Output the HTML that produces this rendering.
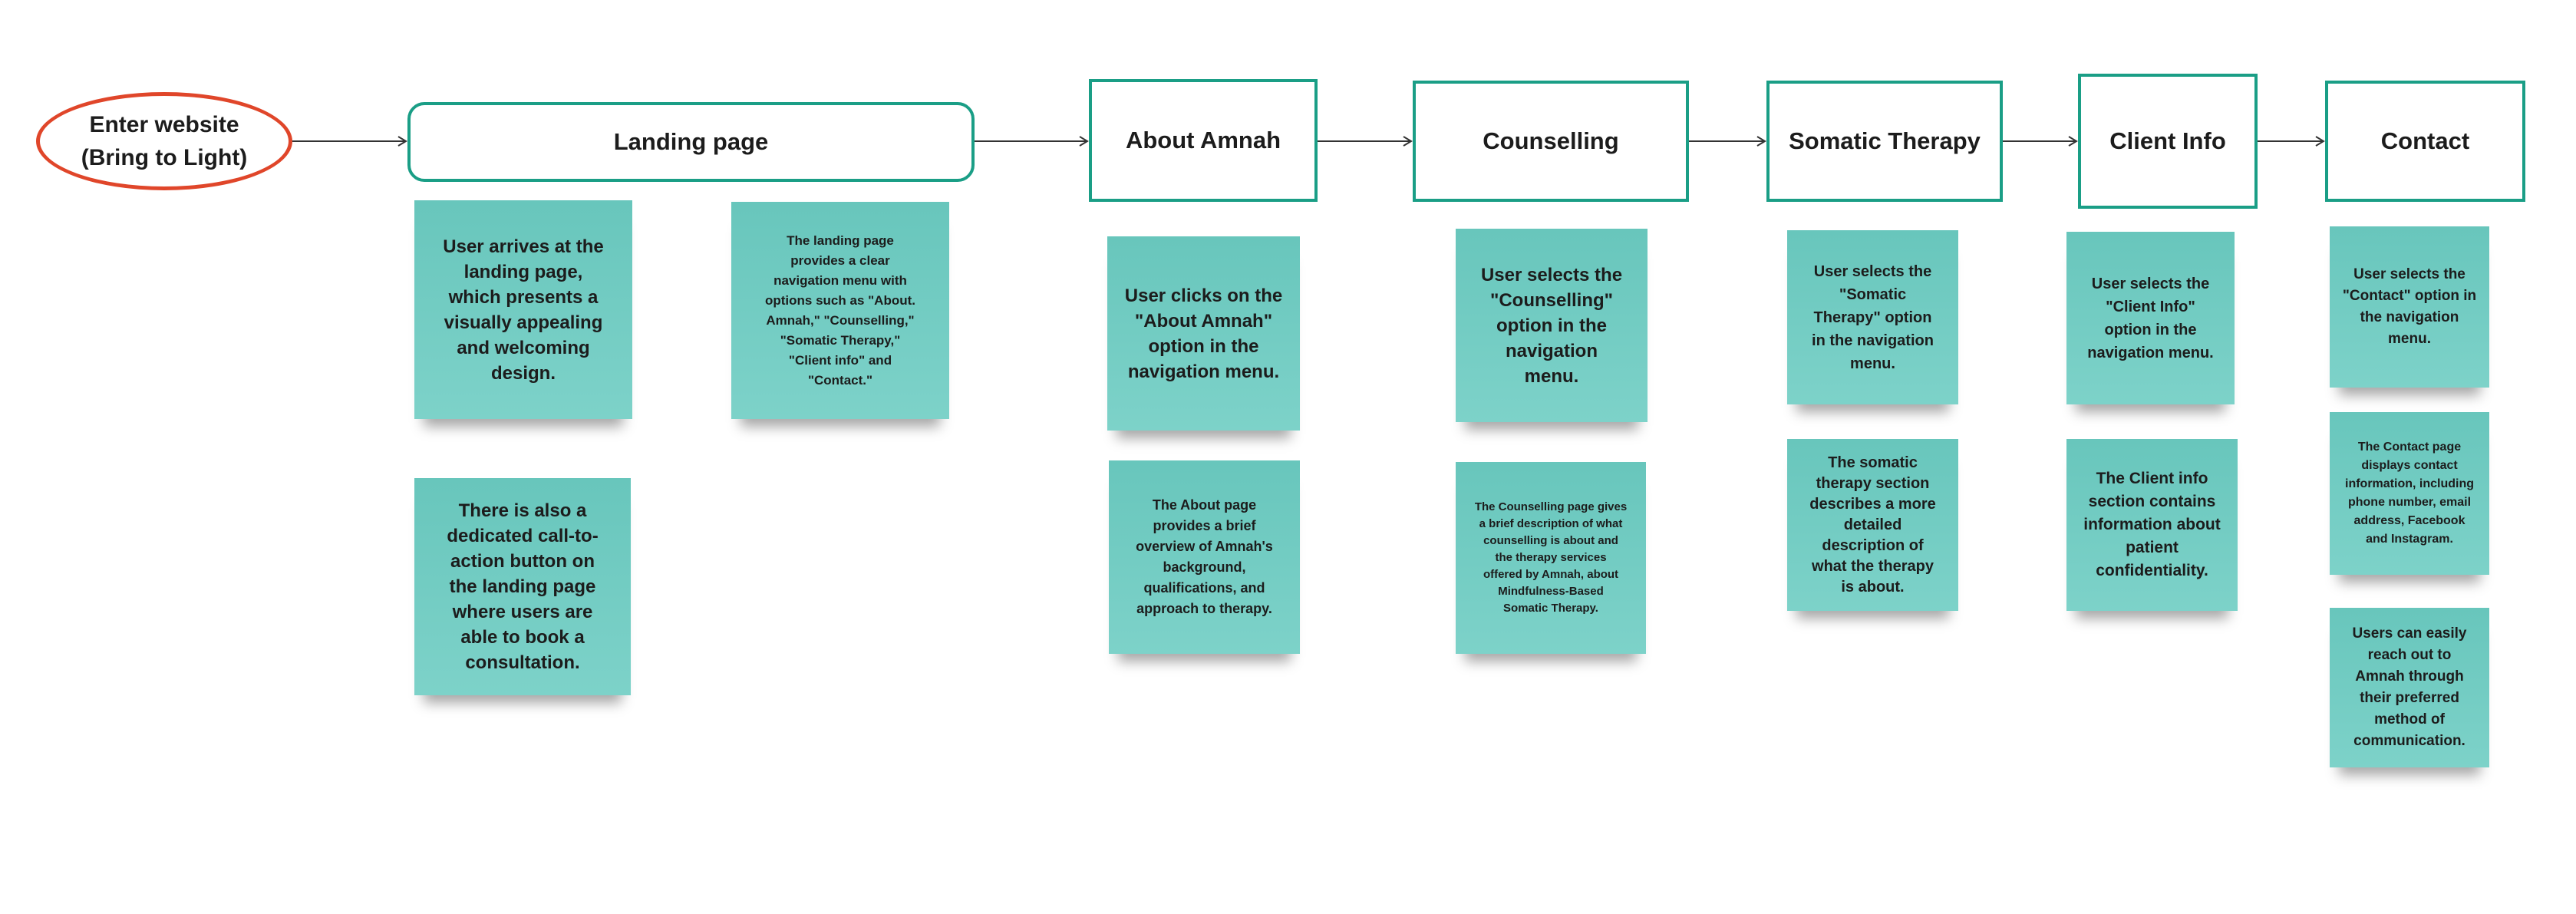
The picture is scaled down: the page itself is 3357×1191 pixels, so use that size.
<!DOCTYPE html>
<html><head><meta charset="utf-8"><style>
body{margin:0;width:3357px;height:1191px;background:#fff;position:relative;overflow:hidden;font-family:"Liberation Sans",sans-serif;font-weight:bold;color:#1c1c1c}
.b{position:absolute;box-sizing:border-box;border:4px solid #1a9e86;background:#fff;display:flex;align-items:center;justify-content:center;text-align:center;font-size:31px}
.n{position:absolute;box-sizing:border-box;background:linear-gradient(180deg,#68c6bc,#7dd2c9);display:flex;align-items:center;justify-content:center;text-align:center;padding:0 26px;box-shadow:0 22px 16px -12px rgba(0,0,0,.35)}
</style></head><body>
<div style="position:absolute;left:47px;top:120px;width:334px;height:128px;box-sizing:border-box;border:5px solid #e0462a;border-radius:50%;display:flex;align-items:center;justify-content:center;text-align:center;font-size:30px;line-height:43px">Enter website<br>(Bring to Light)</div>
<div class="b" style="left:531px;top:133px;width:739px;height:104px;border-radius:22px">Landing page</div>
<div class="b" style="left:1419px;top:103px;width:298px;height:160px">About Amnah</div>
<div class="b" style="left:1841px;top:105px;width:360px;height:158px">Counselling</div>
<div class="b" style="left:2302px;top:105px;width:308px;height:158px">Somatic Therapy</div>
<div class="b" style="left:2708px;top:96px;width:234px;height:176px">Client Info</div>
<div class="b" style="left:3030px;top:105px;width:261px;height:158px">Contact</div>
<svg style="position:absolute;left:0;top:0" width="3357" height="1191"><g stroke="#333" stroke-width="2" fill="none">
<path d="M381 184H529M519 178l10 6-10 6"/>
<path d="M1270 184H1417M1407 178l10 6-10 6"/>
<path d="M1717 184H1839M1829 178l10 6-10 6"/>
<path d="M2201 184H2300M2290 178l10 6-10 6"/>
<path d="M2610 184H2706M2696 178l10 6-10 6"/>
<path d="M2942 184H3028M3018 178l10 6-10 6"/>
</g></svg>
<div class="n" style="left:540px;top:261px;width:284px;height:285px;font-size:24px;line-height:33px;padding:0 30px">User arrives at the landing page, which presents a visually appealing and welcoming design.</div>
<div class="n" style="left:953px;top:263px;width:284px;height:283px;font-size:17px;line-height:26px;padding:0 36px">The landing page provides a clear navigation menu with options such as "About. Amnah," "Counselling," "Somatic Therapy," "Client info" and "Contact."</div>
<div class="n" style="left:540px;top:623px;width:282px;height:283px;font-size:24px;line-height:33px;padding:0 30px">There is also a dedicated call-to-action button on the landing page where users are able to book a consultation.</div>
<div class="n" style="left:1443px;top:308px;width:251px;height:253px;font-size:24px;line-height:33px;padding:0 22px">User clicks on the "About Amnah" option in the navigation menu.</div>
<div class="n" style="left:1445px;top:600px;width:249px;height:252px;font-size:18px;line-height:27px;padding:0 22px">The About page provides a brief overview of Amnah's background, qualifications, and approach to therapy.</div>
<div class="n" style="left:1897px;top:298px;width:250px;height:252px;font-size:24px;line-height:33px;padding:0 28px">User selects the "Counselling" option in the navigation menu.</div>
<div class="n" style="left:1897px;top:602px;width:248px;height:250px;font-size:15px;line-height:22px;padding:0 24px">The Counselling page gives a brief description of what counselling is about and the therapy services offered by Amnah, about Mindfulness-Based Somatic Therapy.</div>
<div class="n" style="left:2329px;top:300px;width:223px;height:227px;font-size:20px;line-height:30px;padding:0 24px">User selects the "Somatic Therapy" option in the navigation menu.</div>
<div class="n" style="left:2329px;top:572px;width:223px;height:224px;font-size:20px;line-height:27px;padding:0 26px">The somatic therapy section describes a more detailed description of what the therapy is about.</div>
<div class="n" style="left:2693px;top:302px;width:219px;height:225px;font-size:20px;line-height:30px;padding:0 26px">User selects the "Client Info" option in the navigation menu.</div>
<div class="n" style="left:2693px;top:572px;width:223px;height:224px;font-size:21px;line-height:30px;padding:0 22px">The Client info section contains information about patient confidentiality.</div>
<div class="n" style="left:3036px;top:295px;width:208px;height:210px;font-size:19px;line-height:28px;padding:0 16px">User selects the "Contact" option in the navigation menu.</div>
<div class="n" style="left:3036px;top:537px;width:208px;height:212px;font-size:16px;line-height:24px;padding:0 18px">The Contact page displays contact information, including phone number, email address, Facebook and Instagram.</div>
<div class="n" style="left:3036px;top:792px;width:208px;height:208px;font-size:19px;line-height:28px;padding:0 20px">Users can easily reach out to Amnah through their preferred method of communication.</div>
</body></html>
